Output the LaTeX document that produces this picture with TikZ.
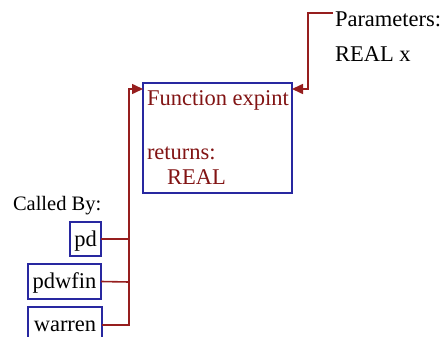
\documentclass[tikz,border=0pt]{standalone}
\usepackage{fontspec}
\setmainfont{Liberation Serif}
\usetikzlibrary{arrows.meta}
\definecolor{boxblue}{RGB}{40,40,160}
\definecolor{linered}{RGB}{150,30,30}
\definecolor{textred}{RGB}{130,20,20}
\begin{document}
\begin{tikzpicture}[x=1pt,y=-1pt,
  every node/.style={inner sep=0pt,outer sep=0pt,font=\fontsize{22.5}{26}\selectfont},
  callbox/.style={draw=boxblue,line width=1.3pt,anchor=north west},
  conn/.style={draw=linered,line width=1.6pt},
  arr/.style={conn,-{Triangle[length=11pt,width=10pt]}}]
\useasboundingbox (0,0) rectangle (442,337);
% main box
\node[callbox,minimum width=149pt,minimum height=110pt] (main) at (143,83) {};
\node[anchor=base west,text=textred] (fn) at (147,106) {Function expint};
\node[anchor=base west,text=textred] (ret) at (147,159) {returns:};
\node[anchor=base west,text=textred] (real) at (167,184) {REAL};
% parameters
\node[anchor=base west] (par) at (335,27) {Parameters:};
\node[anchor=base west] (parx) at (335,62) {REAL x};
\coordinate (pc) at (333,13);
\coordinate (pin) at (292,89);
\draw[arr] (pc) -- (308,13) -- (308,89) -- (pin);
% called by
\node[anchor=base west,font=\fontsize{20.5}{24}\selectfont] (cb) at (13,210) {Called By:};
\node[callbox,minimum width=31pt,minimum height=34pt] (pd) at (70,222) {};
\node[anchor=base] at (pd.center) [yshift=-7pt] {pd};
\node[callbox,minimum width=73pt,minimum height=35pt] (pdw) at (28,264) {};
\node[anchor=base] at (pdw.center) [yshift=-7pt] {pdwfin};
\node[callbox,minimum width=74pt,minimum height=35pt] (war) at (28,307) {};
\node[anchor=base] at (war.center) [yshift=-7pt] {warren};
\coordinate (vb) at (129,325);
\coordinate (min) at (143,89);
\draw[arr] (war.east |- vb) -- (vb) -- (129,89) -- (min);
\draw[conn] (pd.east) -- (129,239);
\draw[conn] (pdw.east) -- (129,282);
\end{tikzpicture}
\end{document}
